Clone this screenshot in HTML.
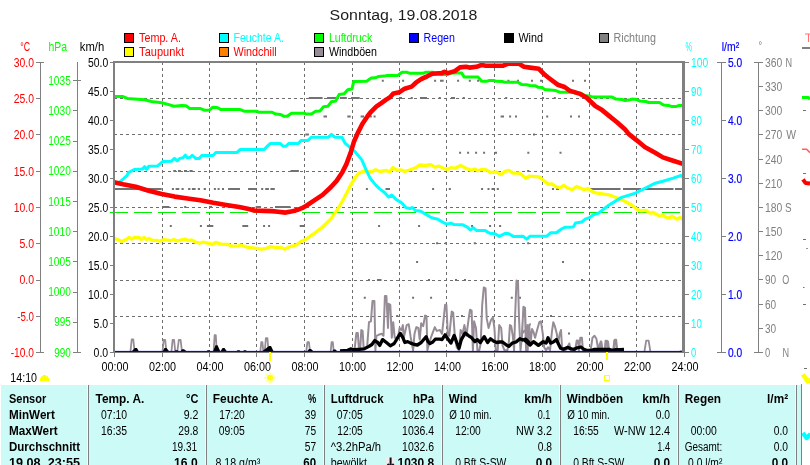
<!DOCTYPE html>
<html><head><meta charset="utf-8"><title>Wetter</title>
<style>html,body{margin:0;padding:0;background:#fff;width:810px;height:465px;overflow:hidden}</style></head>
<body>
<svg width="810" height="465" viewBox="0 0 810 465" style="position:absolute;left:0;top:0;will-change:transform;font-family:'Liberation Sans',sans-serif">
<rect width="810" height="465" fill="#fff"/>
<path d="M162.5,62V351 M209.5,62V351 M256.5,62V351 M304.5,62V351 M352.5,62V351 M399.5,62V351 M446.5,62V351 M494.5,62V351 M542.5,62V351 M589.5,62V351 M636.5,62V351 M114,98.5H682 M114,134.5H682 M114,171.5H682 M114,207.5H682 M114,243.5H682 M114,280.5H682 M114,316.5H682" stroke="#6e6e6e" stroke-width="1" stroke-dasharray="3 3" fill="none" shape-rendering="crispEdges"/>
<path d="M114.6,189H161.7" stroke="#727272" stroke-width="2" fill="none"/>
<path d="M171.9,189H173.9 M175.6,189H179.3 M181.5,189H183.7 M188.1,189H190.4 M191.9,189H195.6 M197.8,189H200 M203.7,189H205.9 M213.9,189H215.9 M217.6,189H219.6 M222.0,189H224.0 M228.1,189H240 M248.1,189H256.3 M261.2,189H263.2 M265.2,189H268.9 M270.4,189H274.8 M365.9,189H367.9 M385.5,189H390" stroke="#727272" stroke-width="2" fill="none"/>
<path d="M173.3,171H176 M178,171H181 M184,171H187 M189.5,171H192.7 M290.5,171H298.9 M410.2,171H412.2 M527.2,171H529.2" stroke="#727272" stroke-width="2" fill="none"/>
<path d="M163,207H169.4 M184.2,207H186.2 M209.5,207H212 M255.6,207H261 M275,207H290.5" stroke="#727272" stroke-width="2" fill="none"/>
<path d="M169.8,225.9H171.8 M199.9,225.9H201.9 M206.9,225.9H213.3 M242.3,225.9H248.2 M263.1,225.9H265.1 M268.1,225.9H270.1 M299.7,225.9H304.5 M378.1,225.9H380.1 M418.1,225.9H420.1 M471.1,225.9H473.1 M489.1,225.9H491.1 M499.1,225.9H501.1" stroke="#727272" stroke-width="2" fill="none"/>
<path d="M308.8,98H322.6 M327,98H336.4 M340,98H346.8 M351,98H359.7" stroke="#727272" stroke-width="2" fill="none"/>
<path d="M323.5,116.6H327 M347.3,116.6H350.7 M360.6,116.6H364 M369.7,116.6H371.8 M373.6,116.6H375.6 M500.6,116.6H504 M509.1,116.6H511.1 M515.0,116.6H517.0 M546.2,116.6H548.2 M570.0,116.6H572.0 M578.0,116.6H580.0" stroke="#727272" stroke-width="2" fill="none"/>
<path d="M381.8,80.8H383.8 M402.1,80.8H404.1 M434.1,80.8H436.1 M440,80.8H443.6 M457.1,80.8H459.1 M468.8,80.8H470.8 M477.1,80.8H479.1 M507.4,80.8H509.4 M517.0,80.8H519.0 M531.0,80.8H533.0 M540,80.8H542.3 M572.0,80.8H574.0 M584.0,80.8H586.0" stroke="#727272" stroke-width="2" fill="none"/>
<path d="M305.3,134.5H308.8 M533.0,134.5H535.0" stroke="#727272" stroke-width="2" fill="none"/>
<path d="M399,98H402 M410.8,98H412.8 M420,98H427 M438.8,98H440.8 M451,98H455 M462.8,98H464.8 M505.2,98H507.2 M542.0,98H544.0 M553.8,98H555.8" stroke="#727272" stroke-width="2" fill="none"/>
<path d="M559.5,152.8H561.5 M459.1,152.8H461.1 M467.1,152.8H469.1 M475.1,152.8H477.1 M483.1,152.8H485.1 M495.0,152.8H497.0 M527.3,152.8H529.3" stroke="#727272" stroke-width="2" fill="none"/>
<path d="M386.5,189H389.7 M432.1,189H434.1 M448.8,189H450.8 M481.1,189H483.1 M487.5,189H489.5 M491.5,189H494 M496.8,189H498.8 M552.0,189H554.0 M556,189H559" stroke="#727272" stroke-width="2" fill="none"/>
<path d="M389.8,243.2H391.8 M436.1,243.2H438.1 M444.8,243.2H446.8 M473.8,243.2H475.8 M527.2,243.2H529.2" stroke="#727272" stroke-width="2" fill="none"/>
<path d="M363.8,297.7H365.8 M412.1,297.7H414.1 M430.1,297.7H432.1 M510.8,297.7H512.8 M519.0,297.7H521.0" stroke="#727272" stroke-width="2" fill="none"/>
<path d="M368.0,280H370.0 M377,280H381.5 M428.0,280H430.0 M455.0,280H457.0 M464.0,280H466.0 M581.0,280H583.0" stroke="#727272" stroke-width="2" fill="none"/>
<path d="M396.2,316H398.2 M424.8,316H426.8 M461.0,316H463.0 M550.0,316H552.0" stroke="#727272" stroke-width="2" fill="none"/>
<path d="M568.0,333.6H570.0" stroke="#727272" stroke-width="2" fill="none"/>
<path d="M416.1,262H418.1 M562.0,262H564.0" stroke="#727272" stroke-width="2" fill="none"/>
<path d="M586.8,189H620.5 M623,189H641 M642.5,189H673.5 M675,189H684" stroke="#707070" stroke-width="2" fill="none"/>
<path d="M110,212.5H128 M134,212.5H152 M158,212.5H176 M182,212.5H200 M206,212.5H224 M230,212.5H248 M254,212.5H272 M278,212.5H296 M302,212.5H320 M326,212.5H344 M350,212.5H368 M374,212.5H392 M398,212.5H416 M422,212.5H440 M446,212.5H464 M470,212.5H488 M494,212.5H512 M518,212.5H536 M542,212.5H560 M566,212.5H584 M590,212.5H608 M614,212.5H632 M638,212.5H656 M662,212.5H680" stroke="#00f000" stroke-width="1" fill="none" shape-rendering="crispEdges"/>
<polyline points="345.8,350.9 354.5,350.3 356.4,332.9 357.8,332.9 358.8,347.4 360.3,347.4 361.3,330.0 362.6,330.9 363.6,347.4 367.1,347.4 369.0,322.2 370.9,321.3 372.5,300.9 374.4,300.9 375.4,350.3 376.4,335.8 378.7,334.8 381.6,333.8 383.5,335.8 384.9,296.1 386.4,296.1 388.0,328.0 388.7,303.8 390.3,304.8 391.8,337.7 393.2,322.2 394.7,337.7 398.0,337.7 399.6,328.0 401.5,330.0 402.9,325.1 403.8,337.7 406.7,325.1 408.7,324.2 410.6,336.7 413.1,350.3 414.5,333.8 416.4,327.1 418.3,328.0 419.7,339.6 421.2,323.2 423.2,326.1 425.1,315.5 426.5,316.4 427.4,350.3 429.0,343.5 430.9,337.7 434.8,327.1 436.7,330.9 440.0,330.0 439.7,330.0 442.0,333.8 443.5,320.3 445.1,304.8 446.4,304.8 447.8,333.8 449.3,335.8 451.7,311.6 453.2,312.6 454.8,335.8 456.7,347.4 459.0,350.3 460.6,330.0 462.5,333.8 464.4,325.1 466.4,335.8 468.7,318.4 470.0,309.7 471.6,310.6 472.9,350.3 474.1,321.3 476.0,328.0 477.4,350.3 479.3,350.3 480.7,343.5 482.2,304.8 483.8,287.4 485.5,288.4 486.7,318.4 488.6,328.0 490.9,320.3 492.9,317.4 494.4,328.0 495.8,350.3 497.7,350.3 499.2,325.1 501.2,328.0 502.5,345.4 504.5,350.3 507.4,350.3 508.9,341.6 509.9,325.1 511.2,326.1 512.8,335.8 514.1,350.3 515.1,316.4 516.5,280.6 518.0,281.6 519.0,318.4 520.5,350.3 521.9,337.7 523.4,306.8 524.8,307.7 526.1,350.3 527.7,350.3 528.6,328.0 530.0,324.2 521.9,333.8 523.5,307.7 525.0,307.7 526.4,350.3 527.7,325.1 529.3,327.1 530.6,343.5 532.0,329.0 533.5,331.9 535.1,337.7 537.4,329.0 539.3,322.2 540.9,321.3 542.8,333.8 544.2,347.4 546.1,350.3 548.0,347.4 550.0,350.3 551.9,331.9 553.3,322.2 554.8,326.1 556.8,333.8 558.1,343.5 559.7,333.8 561.0,330.0 562.2,350.3 565.5,350.3 567.4,347.4 569.3,343.5 570.7,350.3 575.1,350.3 576.7,340.6 578.0,340.6 579.0,350.3 580.3,337.7 581.9,337.7 582.9,350.3 590.6,350.3 592.5,337.7 594.5,335.8 596.4,338.7 598.3,350.3 599.9,343.5 601.2,342.5 602.6,350.3 605.1,350.3 606.5,341.6 608.0,341.6 609.0,350.3 613.2,350.3 614.4,340.6 615.7,340.6 616.7,350.3 620.0,350.3" fill="none" stroke="#968c96" stroke-width="2" stroke-linejoin="round" stroke-linecap="butt" stroke-linejoin="miter"/>
<polyline points="130.5,351 131.7,339.5 133.3,339.5 134.5,351" fill="none" stroke="#968c96" stroke-width="1.8" stroke-linejoin="round" stroke-linecap="butt" />
<polyline points="162.6,351 163.7,340 165.2,340 166.3,351" fill="none" stroke="#968c96" stroke-width="1.8" stroke-linejoin="round" stroke-linecap="butt" />
<polyline points="171.5,351 172.6,340 174.1,340 175.2,351" fill="none" stroke="#968c96" stroke-width="1.8" stroke-linejoin="round" stroke-linecap="butt" />
<polyline points="177.4,351 178.8,340 180.6,340 181.9,351" fill="none" stroke="#968c96" stroke-width="1.8" stroke-linejoin="round" stroke-linecap="butt" />
<polyline points="213.7,351 214.6,335.2 215.8,335.2 216.7,351" fill="none" stroke="#968c96" stroke-width="1.8" stroke-linejoin="round" stroke-linecap="butt" />
<polyline points="260.4,351 261.3,342.2 262.4,342.2 263.3,351" fill="none" stroke="#968c96" stroke-width="1.8" stroke-linejoin="round" stroke-linecap="butt" />
<polyline points="264.8,351 265.9,338.2 267.4,338.2 268.5,351" fill="none" stroke="#968c96" stroke-width="1.8" stroke-linejoin="round" stroke-linecap="butt" />
<polyline points="306.3,351 307.4,342.2 308.9,342.2 310,351" fill="none" stroke="#968c96" stroke-width="1.8" stroke-linejoin="round" stroke-linecap="butt" />
<polyline points="330.7,351 331.6,342.2 332.8,342.2 333.7,351" fill="none" stroke="#968c96" stroke-width="1.8" stroke-linejoin="round" stroke-linecap="butt" />
<polyline points="600,351 600.6,341.5 601.4,341.5 602,351" fill="none" stroke="#968c96" stroke-width="1.8" stroke-linejoin="round" stroke-linecap="butt" />
<polyline points="604.5,351 605.5,340.6 607.0,340.6 608,351" fill="none" stroke="#968c96" stroke-width="1.8" stroke-linejoin="round" stroke-linecap="butt" />
<polyline points="613.5,351 614.7,339.7 616.2,339.7 617.4,351" fill="none" stroke="#968c96" stroke-width="1.8" stroke-linejoin="round" stroke-linecap="butt" />
<polyline points="644.5,351 646.2,340.6 648.6,340.6 650.3,351" fill="none" stroke="#968c96" stroke-width="1.8" stroke-linejoin="round" stroke-linecap="butt" />
<polyline points="114,238.3 114.9,238.5 118,239.8 121.7,241.6 125.4,239.8 129.1,237.5 131.6,239.1 134.7,237.3 139,237.3 141.5,239.5 144,237.5 146.4,239.5 148.9,238.5 152.6,240.4 156.9,240.4 159.4,241.2 164.3,239.5 170.5,240.7 173.6,239.5 177.3,241 181.6,239.8 185.3,239.1 189,240.7 191.5,239.8 195.2,242 199.5,243.2 202.6,242.2 209.3,243.3 212.4,244.5 215.5,242.3 221,244.1 228.5,244.5 231.5,246.2 237.7,246.2 240.8,245 247,247.2 254.4,248.2 261.2,249.1 265.5,248.7 270.4,246.6 275.4,247.5 280.9,247.5 285,249.1 289,247 296.4,244.8 300.7,241.7 305,239.8 314.3,233.4 322.6,227 331,218.6 338,208.8 343.6,199 349.2,187.9 354.8,178.1 359,173.1 364.6,171.1 371.5,171.9 375.7,169.7 380,171.5 386.4,170.4 389.7,171.9 392.9,167.6 397.2,170.4 401.5,170 404.7,171.5 410.1,169.8 414.4,168.3 419.8,165 425.1,165.5 430.5,164.6 434.8,167.2 439.1,166.1 443.4,168.3 447.7,169.3 450.9,167.6 455.2,168.3 460.6,165.5 466,168.3 471.3,170.4 474.6,168.9 477.8,170.8 482.1,169.3 486.4,169.8 490.7,172.6 496,171.9 501.4,174.7 504.6,171.5 508.9,170.4 513.2,173.2 519.7,173.2 526.1,178.4 529.3,176.2 539,176.8 544.4,181.1 548.7,184.4 551.9,183.9 556.2,186.9 560.5,187.6 563.7,185.4 568,188.2 572.3,189.7 576.6,186.5 580.9,188.2 584.1,189.7 588.4,188.7 592.7,191.9 595.9,192.9 608.7,194.8 621.6,199.5 631.9,205.2 638.4,210.3 640,210.8 646,210.3 649.9,213.3 652.8,212.3 659.8,216.2 662.7,215.2 665.7,217.2 669.6,218.2 671.6,216.2 677.5,219.2 680,217.2 683,219.7" fill="none" stroke="#ffff00" stroke-width="3.3" stroke-linejoin="round" stroke-linecap="butt" />
<polyline points="119,182.3 120.8,181.2 127.2,175.3 128.3,172.6 134.7,169.4 142.3,169.1 144.6,166.7 146.6,169.4 148.7,166.3 157.3,166.1 162.7,161.6 171.3,161.3 174.5,158.4 177.2,160.8 179.9,158.4 183.1,157.7 185.3,155.2 187.4,157.7 190,157.5 192.2,155.3 195.9,158.5 199.1,158.5 201.8,155.5 213.1,155.5 215.8,152.6 236.8,152.6 240,149.6 250,149.6 264.2,149.6 267.4,146.1 270.4,143.4 280.1,143.4 283.3,146.3 286,146.3 288.7,143.4 298.3,143.4 301,140.4 308,140.4 311.2,137.2 328.4,137.2 331.5,134.3 334.9,137.2 341.9,137.2 345,143.1 354.8,151.5 361.8,159.9 366,169.7 370.1,178.1 375.7,185.1 380,189.1 384.3,192.3 388.6,196.9 391.8,195.1 396.1,199.4 401.5,202.7 405.8,207.6 410.1,208.5 412.2,207.6 415.5,210.6 420.8,211.3 425.1,214 431.6,217.7 438,219.2 442.3,222 446.6,224.1 450.9,223.1 454.1,224.6 462.7,224.8 467,226.9 470.3,229.9 473.5,227.8 476.7,230.6 485.3,230.6 489.6,233.2 495,233.8 499.3,236.4 505.7,233.2 508.9,233.8 513.2,236.4 522.9,236.3 526.8,239.1 529.8,236.3 546.5,236.3 550.8,232.7 556.2,232.7 561.5,229 564.8,227.3 573.4,226.9 575.5,223 581.9,222 585.2,219.2 589.5,217.7 592.7,215.1 598.1,213.4 608.7,205.2 621.6,197.4 634.5,193.5 647.4,187.1 655.2,183.2 662.9,181.2 673.2,178.1 681,175.5 683,177.3" fill="none" stroke="#00ffff" stroke-width="3" stroke-linejoin="round" stroke-linecap="butt" />
<polyline points="114,96.6 123,96.6 127.3,98.4 144.6,99.8 151.5,101.5 161.8,102.7 168.8,104.6 174,106.3 181.7,105.5 186,105.8 189.5,108.4 199.9,108.4 205,110.3 209.4,110.1 212.8,107.2 217.2,107.5 220.6,109.4 239.6,109.4 244,111.2 250,111.3 257,111.3 258.6,112.2 271.6,112.2 276,114.1 280.2,114.4 283.7,116.2 287.2,116.2 291.5,113.2 304.4,113.2 306.2,114.1 311.4,114.1 315.7,111.3 320,111 323.5,106.7 327.8,106.3 331.2,101.8 335.6,101.1 339,94.6 344.2,93.7 347.7,89.7 352,89 353.7,81.6 366.7,81.3 371,78.1 375.3,77.8 378.8,76.4 384,76.1 386.5,75.6 390,75.4 397.8,75.4 402,72.3 407.3,72.3 409.9,73.3 422.8,73.3 425.4,72.3 432.3,72.3 441.8,74.6 446.5,74.6 450.5,73.1 461.7,73.1 464.3,77.1 478.1,77.1 481.6,81.3 486.8,81.3 489.4,80.4 493.7,80.4 496.3,81.3 502.3,81.4 504.9,82.3 517.9,82.3 521.4,84.4 526.5,84.7 530,85.5 535,85.7 537.9,87.2 541.9,87.6 544.8,89.6 555.7,90.6 559.7,92.2 572.5,92.2 576.5,93.6 581.4,93.6 584.4,95.5 589.3,95.9 592.3,97.1 612.1,97.1 616,99.1 622,99.5 624.9,100.5 628.9,100.1 631.9,99.1 636.8,99.5 639.8,101.1 645.7,101.5 648.7,102.5 659.5,102.5 663.5,105 668.4,105.4 671.4,106.4 676.4,106.4 679.3,105.4 683.3,105.4" fill="none" stroke="#00ff00" stroke-width="3" stroke-linejoin="round" stroke-linecap="butt" />
<polyline points="114,182.2 122.9,184.2 135.8,186.8 148.7,190.7 161.7,194.1 174.6,196.6 187.5,198.5 200.4,200.3 213.3,202.8 226.2,204.9 239.2,207 250,209.2 254,210.5 264,210.9 272,211.1 278,211.8 285.6,212.6 291,211.6 294.4,210.7 298.9,209.3 301.9,208.2 305.9,206 314.3,200.4 322.6,194.9 331,187 336.6,180.9 342.2,172.5 346.4,164.1 350.6,152.9 353.9,141.8 357.6,133.4 362.3,124 367.5,116.2 371,111.8 376.2,106.7 381.3,103.2 386.5,99.4 390,97.3 393.5,93.4 399.5,92.2 404.7,88.7 411.6,86.6 415.9,82.7 421.1,79.2 427.2,76.3 432.3,73.7 441.8,73.1 444.4,71.8 447.9,73.1 454.8,71.1 460,67.4 466,66.8 469.5,67.6 476.4,66.8 481.6,65 485.9,65.7 503.2,65.7 508.4,63.6 518.8,63.6 524,66.8 530,67.6 538.9,68.8 544.8,74.8 549.8,78.7 557.7,84.7 564.6,87 569.6,90.6 579.4,93.6 586.4,97.5 595.3,106 601.2,109.4 609.1,115.9 617,122.2 624.9,129.2 628.9,134.1 637.1,140.6 644.8,147.1 655.2,152.8 662.9,157.4 673.2,160.8 683,163.9" fill="none" stroke="#ff0000" stroke-width="4.6" stroke-linejoin="round" stroke-linecap="butt" />
<polyline points="340.0,350.9 347.7,350.3 350.6,348.9 353.5,349.7 359.3,349.3 364.2,348.9 369.0,346.4 371.9,344.5 374.8,340.6 377.7,342.5 379.7,345.4 382.6,339.6 386.4,342.5 390.3,345.8 394.2,343.5 397.1,338.7 400.3,333.4 402.9,337.7 404.8,342.5 407.7,341.6 410.6,343.1 414.5,344.5 417.4,345.0 421.2,342.5 426.1,336.7 428.0,341.6 429.9,343.5 432.8,342.0 435.2,339.2 440.0,339.2 442.0,339.6 445.1,334.8 447.8,338.7 450.9,343.1 454.2,335.4 456.7,342.5 459.0,348.3 461.3,339.6 465.2,332.9 468.7,335.8 471.6,337.7 474.9,341.6 477.4,339.6 480.3,342.5 484.2,336.7 487.6,342.5 490.5,338.7 493.8,341.2 496.7,342.5 499.6,342.0 502.5,342.0 506.4,345.0 508.9,346.4 512.2,343.1 516.1,342.0 519.9,338.7 522.8,340.0 525.7,339.2 528.6,342.0 530.0,345.0 523.9,339.6 526.8,341.6 530.1,345.0 533.5,341.6 538.4,345.4 543.2,341.6 546.1,343.1 548.0,337.7 550.6,343.1 553.3,342.0 556.4,339.6 558.7,344.5 560.6,348.3 563.5,349.3 567.4,347.4 571.3,348.9 574.2,349.3 577.1,347.8 580.9,347.0 583.8,349.3 586.7,350.3 591.6,350.3 594.5,349.3 609.0,349.3 611.9,350.3 615.7,349.7 620.0,349.7 624,349.5" fill="none" stroke="#000" stroke-width="3.3" stroke-linejoin="round" stroke-linecap="butt" />
<path d="M131.5,351.5L134.9,348L136.9,348L138.9,351.5Z" fill="#000"/>
<path d="M162.6,351.5L164.5,348L166.5,348L169.3,351.5Z" fill="#000"/>
<path d="M174.4,351.5L175.5,350.2L177.5,350.2L179,351.5Z" fill="#000"/>
<path d="M180.4,351.5L182,349.2L184,349.2L187,351.5Z" fill="#000"/>
<path d="M206.3,351.5L207.5,350.3L209.5,350.3L210.7,351.5Z" fill="#000"/>
<path d="M213,351.5L215.5,345.2L217.5,345.2L220.4,351.5Z" fill="#000"/>
<path d="M220.4,351.5L222.5,348.1L224.5,348.1L227,351.5Z" fill="#000"/>
<path d="M236,351.5L237.5,350.3L239.5,350.3L241,351.5Z" fill="#000"/>
<path d="M242.6,351.5L244,350.3L246,350.3L247,351.5Z" fill="#000"/>
<path d="M261.9,351.5L269,345.9L271,345.9L273.7,351.5Z" fill="#000"/>
<path d="M307,351.5L309,348.9L311,348.9L313.7,351.5Z" fill="#000"/>
<path d="M332.2,351.5L333.5,349.6L335.5,349.6L337.4,351.5Z" fill="#000"/>
<path d="M339.6,351.5L341.5,350.6L343.5,350.6L345.5,351.5Z" fill="#000"/>
<path d="M678.3,351.5L680,350.8L682,350.8L684,351.5Z" fill="#000"/>
<rect x="115" y="350.9" width="568" height="1.5" fill="#0000ff"/>
<rect x="113" y="61" width="2" height="292" fill="#808080"/>
<rect x="113" y="61" width="571" height="2" fill="#808080"/>
<rect x="682" y="61" width="3" height="292" fill="#808080"/>
<rect x="113" y="352" width="572" height="1" fill="#808080"/>
<path d="M114.5,352V357 M162.5,352V357 M209.5,352V357 M256.5,352V357 M304.5,352V357 M352.5,352V357 M399.5,352V357 M446.5,352V357 M494.5,352V357 M542.5,352V357 M589.5,352V357 M636.5,352V357 M684.5,352V357 M110,352.5H113 M110,323.5H113 M110,294.5H113 M110,265.5H113 M110,236.5H113 M110,207.5H113 M110,178.5H113 M110,149.5H113 M110,120.5H113 M110,91.5H113 M110,62.5H113 M40.5,62V353 M36,62.5H44 M36,98.5H40 M36,134.5H40 M36,171.5H40 M36,207.5H40 M36,243.5H40 M36,280.5H40 M36,316.5H40 M36,352.5H44 M77.5,62V353 M73,352.5H81 M73,322.5H77 M73,292.5H77 M73,261.5H77 M73,231.5H77 M73,201.5H77 M73,171.5H77 M73,141.5H77 M73,110.5H77 M73,80.5H81 M685,352.5H689 M685,323.5H689 M685,294.5H689 M685,265.5H689 M685,236.5H689 M685,207.5H689 M685,178.5H689 M685,149.5H689 M685,120.5H689 M685,91.5H689 M685,62.5H689 M721.5,62V353 M717,352.5H726 M721,294.5H726 M721,236.5H726 M721,178.5H726 M721,120.5H726 M717,62.5H726 M758.5,62V353 M754,352.5H763 M758,328.5H763 M758,304.5H763 M758,279.5H763 M758,255.5H763 M758,231.5H763 M758,207.5H763 M758,183.5H763 M758,159.5H763 M758,134.5H763 M758,110.5H763 M758,86.5H763 M754,62.5H763" stroke="#808080" stroke-width="1" fill="none" shape-rendering="crispEdges"/>
<rect x="269" y="352" width="2" height="9" fill="#ffff00"/>
<rect x="606" y="352" width="2" height="8" fill="#ffff00"/>
<rect x="604.5" y="375.5" width="5" height="5" fill="none" stroke="#ffff00" stroke-width="1"/>
<g stroke="#ffff70" stroke-width="1" fill="#ffff00"><circle cx="270" cy="377.8" r="3" stroke="none"/><circle cx="270" cy="377.8" r="4.6" stroke="#ffffa0" stroke-width="0.8" fill="none"/><line x1="273.0" y1="377.8" x2="276.0" y2="377.8"/><line x1="272.1" y1="379.9" x2="274.2" y2="382.0"/><line x1="270.0" y1="380.8" x2="270.0" y2="383.8"/><line x1="267.9" y1="379.9" x2="265.8" y2="382.0"/><line x1="267.0" y1="377.8" x2="264.0" y2="377.8"/><line x1="267.9" y1="375.7" x2="265.8" y2="373.6"/><line x1="270.0" y1="374.8" x2="270.0" y2="371.8"/><line x1="272.1" y1="375.7" x2="274.2" y2="373.6"/></g>
<path d="M40,381V378H41V376.3H43V375H46V376.3H48V378H49V381Z" fill="#ffff00"/>
<rect x="802" y="47" width="8" height="2" fill="#808080"/>
<path d="M805,34H810M808.5,34V42" stroke="#ff7070" stroke-width="1.1" fill="none"/>
<path d="M802,97.5H808L810,99" stroke="#00ff00" stroke-width="3" fill="none"/>
<path d="M802,149.2H806.5L810,152.6" stroke="#ff6060" stroke-width="1.6" fill="none"/>
<path d="M803,179.3L805.5,183L810,183.6" stroke="#ff0000" stroke-width="4" fill="none" stroke-linejoin="round"/>
<path d="M802.8,374.5L807.8,381.5L810.5,379.5" stroke="#ffff00" stroke-width="4.5" fill="none" stroke-linejoin="round"/>
<path d="M802.8,433L806.6,438L810.5,434" stroke="#00ffff" stroke-width="4.2" fill="none" stroke-linejoin="round"/>
<path d="M803,110.5H806M803,173.5H806M803,239.5H806M803,304.5H806M804,368.5H807M806.3,248.5H807.8M803,287.5H804.5" stroke="#707070" stroke-width="1" fill="none"/>
<rect x="124.5" y="33.5" width="9" height="9" fill="#ff0000" stroke="#000" stroke-width="1" shape-rendering="crispEdges"/>
<rect x="124.5" y="47.5" width="9" height="9" fill="#ffff00" stroke="#000" stroke-width="1" shape-rendering="crispEdges"/>
<rect x="219.5" y="33.5" width="9" height="9" fill="#00ffff" stroke="#000" stroke-width="1" shape-rendering="crispEdges"/>
<rect x="219.5" y="47.5" width="9" height="9" fill="#ff8000" stroke="#000" stroke-width="1" shape-rendering="crispEdges"/>
<rect x="314.5" y="33.5" width="9" height="9" fill="#00ff00" stroke="#000" stroke-width="1" shape-rendering="crispEdges"/>
<rect x="314.5" y="47.5" width="9" height="9" fill="#968c96" stroke="#000" stroke-width="1" shape-rendering="crispEdges"/>
<rect x="409.5" y="33.5" width="9" height="9" fill="#0000ff" stroke="#000" stroke-width="1" shape-rendering="crispEdges"/>
<rect x="504.5" y="33.5" width="9" height="9" fill="#000000" stroke="#000" stroke-width="1" shape-rendering="crispEdges"/>
<rect x="599.5" y="33.5" width="9" height="9" fill="#808080" stroke="#000" stroke-width="1" shape-rendering="crispEdges"/>
<rect x="1" y="385" width="794" height="80" fill="#ccfaf7"/>
<rect x="797" y="385" width="4" height="80" fill="#ccfaf7"/>
<rect x="801" y="384" width="1" height="81" fill="#808080"/>
<rect x="87" y="385" width="1" height="80" fill="#fff"/><rect x="88" y="385" width="1" height="80" fill="#808080"/>
<rect x="205" y="385" width="1" height="80" fill="#fff"/><rect x="206" y="385" width="1" height="80" fill="#808080"/>
<rect x="323" y="385" width="1" height="80" fill="#fff"/><rect x="324" y="385" width="1" height="80" fill="#808080"/>
<rect x="441" y="385" width="1" height="80" fill="#fff"/><rect x="442" y="385" width="1" height="80" fill="#808080"/>
<rect x="559" y="385" width="1" height="80" fill="#fff"/><rect x="560" y="385" width="1" height="80" fill="#808080"/>
<rect x="677" y="385" width="1" height="80" fill="#fff"/><rect x="678" y="385" width="1" height="80" fill="#808080"/>
<rect x="795" y="385" width="1" height="80" fill="#fff"/><rect x="796" y="385" width="1" height="80" fill="#808080"/>
<rect x="386" y="457" width="8.5" height="8" fill="#f3ecec"/>
<path d="M390.6,457.5V466M387.5,464L390.6,467L393.7,464" stroke="#101020" stroke-width="2" fill="none"/>
<text x="329.6" y="20.3" font-size="15.5" fill="#1c1c1c" textLength="147.7" lengthAdjust="spacingAndGlyphs">Sonntag, 19.08.2018</text>
<text x="139.1" y="42" font-size="12.5" fill="#ff0000" textLength="41.8" lengthAdjust="spacingAndGlyphs">Temp. A.</text>
<text x="139.1" y="56" font-size="12.5" fill="#ff0000" textLength="44.9" lengthAdjust="spacingAndGlyphs">Taupunkt</text>
<text x="233.5" y="42" font-size="12.5" fill="#00ffff" textLength="50.5" lengthAdjust="spacingAndGlyphs">Feuchte A.</text>
<text x="233.5" y="56" font-size="12.5" fill="#ff0000" textLength="43.2" lengthAdjust="spacingAndGlyphs">Windchill</text>
<text x="328.9" y="42" font-size="12.5" fill="#00ff00" textLength="43.4" lengthAdjust="spacingAndGlyphs">Luftdruck</text>
<text x="328.9" y="56" font-size="12.5" fill="#000" textLength="48.1" lengthAdjust="spacingAndGlyphs">Windböen</text>
<text x="423.5" y="42" font-size="12.5" fill="#0000ff" textLength="31.5" lengthAdjust="spacingAndGlyphs">Regen</text>
<text x="518.4" y="42" font-size="12.5" fill="#000" textLength="24.6" lengthAdjust="spacingAndGlyphs">Wind</text>
<text x="613.5" y="42" font-size="12.5" fill="#808080" textLength="42.5" lengthAdjust="spacingAndGlyphs">Richtung</text>
<text x="20.3" y="50.8" font-size="12.3" fill="#ff0000" textLength="9.8" lengthAdjust="spacingAndGlyphs">°C</text>
<text x="48.5" y="50.8" font-size="12.3" fill="#00ff00" textLength="18.5" lengthAdjust="spacingAndGlyphs">hPa</text>
<text x="79.8" y="50.8" font-size="12.3" fill="#000" textLength="24.4" lengthAdjust="spacingAndGlyphs">km/h</text>
<text x="685.6" y="50.8" font-size="12.3" fill="#00ffff" textLength="6.4" lengthAdjust="spacingAndGlyphs">%</text>
<text x="721.8" y="50.8" font-size="12.3" fill="#0000ff" textLength="17.4" lengthAdjust="spacingAndGlyphs" stroke="#0000ff" stroke-width="0.18">l/m²</text>
<text x="758.6" y="49.2" font-size="10" fill="#808080" textLength="3.6" lengthAdjust="spacingAndGlyphs">°</text>
<text x="13.8" y="66.9" font-size="12.3" fill="#ff0000" textLength="20.2" lengthAdjust="spacingAndGlyphs">30.0</text>
<text x="13.8" y="103.2" font-size="12.3" fill="#ff0000" textLength="20.2" lengthAdjust="spacingAndGlyphs">25.0</text>
<text x="13.8" y="139.4" font-size="12.3" fill="#ff0000" textLength="20.2" lengthAdjust="spacingAndGlyphs">20.0</text>
<text x="13.8" y="175.7" font-size="12.3" fill="#ff0000" textLength="20.2" lengthAdjust="spacingAndGlyphs">15.0</text>
<text x="13.8" y="211.9" font-size="12.3" fill="#ff0000" textLength="20.2" lengthAdjust="spacingAndGlyphs">10.0</text>
<text x="19.4" y="248.2" font-size="12.3" fill="#ff0000" textLength="14.6" lengthAdjust="spacingAndGlyphs">5.0</text>
<text x="19.4" y="284.4" font-size="12.3" fill="#ff0000" textLength="14.6" lengthAdjust="spacingAndGlyphs">0.0</text>
<text x="17.2" y="320.6" font-size="12.3" fill="#ff0000" textLength="16.8" lengthAdjust="spacingAndGlyphs">-5.0</text>
<text x="10.7" y="356.9" font-size="12.3" fill="#ff0000" textLength="23.3" lengthAdjust="spacingAndGlyphs">-10.0</text>
<text x="54.2" y="356.6" font-size="12.3" fill="#00ff00" textLength="16.6" lengthAdjust="spacingAndGlyphs">990</text>
<text x="54.2" y="326.4" font-size="12.3" fill="#00ff00" textLength="16.6" lengthAdjust="spacingAndGlyphs">995</text>
<text x="48.2" y="296.2" font-size="12.3" fill="#00ff00" textLength="22.6" lengthAdjust="spacingAndGlyphs">1000</text>
<text x="48.2" y="266.0" font-size="12.3" fill="#00ff00" textLength="22.6" lengthAdjust="spacingAndGlyphs">1005</text>
<text x="48.2" y="235.8" font-size="12.3" fill="#00ff00" textLength="22.6" lengthAdjust="spacingAndGlyphs">1010</text>
<text x="48.2" y="205.6" font-size="12.3" fill="#00ff00" textLength="22.6" lengthAdjust="spacingAndGlyphs">1015</text>
<text x="48.2" y="175.4" font-size="12.3" fill="#00ff00" textLength="22.6" lengthAdjust="spacingAndGlyphs">1020</text>
<text x="48.2" y="145.2" font-size="12.3" fill="#00ff00" textLength="22.6" lengthAdjust="spacingAndGlyphs">1025</text>
<text x="48.2" y="115.0" font-size="12.3" fill="#00ff00" textLength="22.6" lengthAdjust="spacingAndGlyphs">1030</text>
<text x="48.2" y="84.8" font-size="12.3" fill="#00ff00" textLength="22.6" lengthAdjust="spacingAndGlyphs">1035</text>
<text x="93.6" y="357.0" font-size="12.3" fill="#000" textLength="14.6" lengthAdjust="spacingAndGlyphs">0.0</text>
<text x="93.6" y="328.0" font-size="12.3" fill="#000" textLength="14.6" lengthAdjust="spacingAndGlyphs">5.0</text>
<text x="88.0" y="299.0" font-size="12.3" fill="#000" textLength="20.2" lengthAdjust="spacingAndGlyphs">10.0</text>
<text x="88.0" y="270.0" font-size="12.3" fill="#000" textLength="20.2" lengthAdjust="spacingAndGlyphs">15.0</text>
<text x="88.0" y="241.0" font-size="12.3" fill="#000" textLength="20.2" lengthAdjust="spacingAndGlyphs">20.0</text>
<text x="88.0" y="212.0" font-size="12.3" fill="#000" textLength="20.2" lengthAdjust="spacingAndGlyphs">25.0</text>
<text x="88.0" y="183.0" font-size="12.3" fill="#000" textLength="20.2" lengthAdjust="spacingAndGlyphs">30.0</text>
<text x="88.0" y="154.0" font-size="12.3" fill="#000" textLength="20.2" lengthAdjust="spacingAndGlyphs">35.0</text>
<text x="88.0" y="125.0" font-size="12.3" fill="#000" textLength="20.2" lengthAdjust="spacingAndGlyphs">40.0</text>
<text x="88.0" y="96.0" font-size="12.3" fill="#000" textLength="20.2" lengthAdjust="spacingAndGlyphs">45.0</text>
<text x="88.0" y="67.0" font-size="12.3" fill="#000" textLength="20.2" lengthAdjust="spacingAndGlyphs">50.0</text>
<text x="691" y="357.0" font-size="12.3" fill="#00ffff" textLength="5.2" lengthAdjust="spacingAndGlyphs">0</text>
<text x="691" y="328.0" font-size="12.3" fill="#00ffff" textLength="10.8" lengthAdjust="spacingAndGlyphs">10</text>
<text x="691" y="299.0" font-size="12.3" fill="#00ffff" textLength="10.8" lengthAdjust="spacingAndGlyphs">20</text>
<text x="691" y="270.0" font-size="12.3" fill="#00ffff" textLength="10.8" lengthAdjust="spacingAndGlyphs">30</text>
<text x="691" y="241.0" font-size="12.3" fill="#00ffff" textLength="10.8" lengthAdjust="spacingAndGlyphs">40</text>
<text x="691" y="212.0" font-size="12.3" fill="#00ffff" textLength="10.8" lengthAdjust="spacingAndGlyphs">50</text>
<text x="691" y="183.0" font-size="12.3" fill="#00ffff" textLength="10.8" lengthAdjust="spacingAndGlyphs">60</text>
<text x="691" y="154.0" font-size="12.3" fill="#00ffff" textLength="10.8" lengthAdjust="spacingAndGlyphs">70</text>
<text x="691" y="125.0" font-size="12.3" fill="#00ffff" textLength="10.8" lengthAdjust="spacingAndGlyphs">80</text>
<text x="691" y="96.0" font-size="12.3" fill="#00ffff" textLength="10.8" lengthAdjust="spacingAndGlyphs">90</text>
<text x="691" y="67.0" font-size="12.3" fill="#00ffff" textLength="17.2" lengthAdjust="spacingAndGlyphs">100</text>
<text x="727.9" y="357.0" font-size="12.3" fill="#0000ff" textLength="14.2" lengthAdjust="spacingAndGlyphs" stroke="#0000ff" stroke-width="0.18">0.0</text>
<text x="727.9" y="299.0" font-size="12.3" fill="#0000ff" textLength="14.2" lengthAdjust="spacingAndGlyphs" stroke="#0000ff" stroke-width="0.18">1.0</text>
<text x="727.9" y="241.0" font-size="12.3" fill="#0000ff" textLength="14.2" lengthAdjust="spacingAndGlyphs" stroke="#0000ff" stroke-width="0.18">2.0</text>
<text x="727.9" y="183.0" font-size="12.3" fill="#0000ff" textLength="14.2" lengthAdjust="spacingAndGlyphs" stroke="#0000ff" stroke-width="0.18">3.0</text>
<text x="727.9" y="125.0" font-size="12.3" fill="#0000ff" textLength="14.2" lengthAdjust="spacingAndGlyphs" stroke="#0000ff" stroke-width="0.18">4.0</text>
<text x="727.9" y="67.0" font-size="12.3" fill="#0000ff" textLength="14.2" lengthAdjust="spacingAndGlyphs" stroke="#0000ff" stroke-width="0.18">5.0</text>
<text x="764.9" y="356.8" font-size="12.3" fill="#808080" textLength="5.2" lengthAdjust="spacingAndGlyphs">0</text>
<text x="764.9" y="332.6" font-size="12.3" fill="#808080" textLength="11.2" lengthAdjust="spacingAndGlyphs">30</text>
<text x="764.9" y="308.5" font-size="12.3" fill="#808080" textLength="11.2" lengthAdjust="spacingAndGlyphs">60</text>
<text x="764.9" y="284.3" font-size="12.3" fill="#808080" textLength="11.2" lengthAdjust="spacingAndGlyphs">90</text>
<text x="764.9" y="260.1" font-size="12.3" fill="#808080" textLength="17.3" lengthAdjust="spacingAndGlyphs">120</text>
<text x="764.9" y="236.0" font-size="12.3" fill="#808080" textLength="17.3" lengthAdjust="spacingAndGlyphs">150</text>
<text x="764.9" y="211.8" font-size="12.3" fill="#808080" textLength="17.3" lengthAdjust="spacingAndGlyphs">180</text>
<text x="764.9" y="187.6" font-size="12.3" fill="#808080" textLength="17.3" lengthAdjust="spacingAndGlyphs">210</text>
<text x="764.9" y="163.5" font-size="12.3" fill="#808080" textLength="17.3" lengthAdjust="spacingAndGlyphs">240</text>
<text x="764.9" y="139.3" font-size="12.3" fill="#808080" textLength="17.3" lengthAdjust="spacingAndGlyphs">270</text>
<text x="764.9" y="115.1" font-size="12.3" fill="#808080" textLength="17.3" lengthAdjust="spacingAndGlyphs">300</text>
<text x="764.9" y="91.0" font-size="12.3" fill="#808080" textLength="17.3" lengthAdjust="spacingAndGlyphs">330</text>
<text x="764.9" y="66.8" font-size="12.3" fill="#808080" textLength="17.3" lengthAdjust="spacingAndGlyphs">360</text>
<text x="785.6" y="66.8" font-size="12.3" fill="#808080" textLength="6.6" lengthAdjust="spacingAndGlyphs">N</text>
<text x="786.3" y="139.3" font-size="12.3" fill="#808080" textLength="9.8" lengthAdjust="spacingAndGlyphs">W</text>
<text x="785" y="211.8" font-size="12.3" fill="#808080" textLength="6.6" lengthAdjust="spacingAndGlyphs">S</text>
<text x="782.2" y="284.3" font-size="12.3" fill="#808080" textLength="7" lengthAdjust="spacingAndGlyphs">O</text>
<text x="782.6" y="356.8" font-size="12.3" fill="#808080" textLength="6.6" lengthAdjust="spacingAndGlyphs">N</text>
<text x="101.6" y="370.7" font-size="12.3" fill="#000" textLength="27" lengthAdjust="spacingAndGlyphs">00:00</text>
<text x="149.1" y="370.7" font-size="12.3" fill="#000" textLength="27" lengthAdjust="spacingAndGlyphs">02:00</text>
<text x="196.6" y="370.7" font-size="12.3" fill="#000" textLength="27" lengthAdjust="spacingAndGlyphs">04:00</text>
<text x="244.1" y="370.7" font-size="12.3" fill="#000" textLength="27" lengthAdjust="spacingAndGlyphs">06:00</text>
<text x="291.6" y="370.7" font-size="12.3" fill="#000" textLength="27" lengthAdjust="spacingAndGlyphs">08:00</text>
<text x="339.1" y="370.7" font-size="12.3" fill="#000" textLength="27" lengthAdjust="spacingAndGlyphs">10:00</text>
<text x="386.6" y="370.7" font-size="12.3" fill="#000" textLength="27" lengthAdjust="spacingAndGlyphs">12:00</text>
<text x="434.1" y="370.7" font-size="12.3" fill="#000" textLength="27" lengthAdjust="spacingAndGlyphs">14:00</text>
<text x="481.6" y="370.7" font-size="12.3" fill="#000" textLength="27" lengthAdjust="spacingAndGlyphs">16:00</text>
<text x="529.1" y="370.7" font-size="12.3" fill="#000" textLength="27" lengthAdjust="spacingAndGlyphs">18:00</text>
<text x="576.6" y="370.7" font-size="12.3" fill="#000" textLength="27" lengthAdjust="spacingAndGlyphs">20:00</text>
<text x="624.1" y="370.7" font-size="12.3" fill="#000" textLength="27" lengthAdjust="spacingAndGlyphs">22:00</text>
<text x="671.6" y="370.7" font-size="12.3" fill="#000" textLength="27" lengthAdjust="spacingAndGlyphs">24:00</text>
<text x="10.3" y="381.8" font-size="12.3" fill="#000" textLength="26.7" lengthAdjust="spacingAndGlyphs">14:10</text>
<text x="9" y="403" font-size="12.3" fill="#000" font-weight="bold" textLength="37.2" lengthAdjust="spacingAndGlyphs">Sensor</text>
<text x="9" y="419" font-size="12.3" fill="#000" font-weight="bold" textLength="45.8" lengthAdjust="spacingAndGlyphs">MinWert</text>
<text x="9" y="435" font-size="12.3" fill="#000" font-weight="bold" textLength="48.6" lengthAdjust="spacingAndGlyphs">MaxWert</text>
<text x="9" y="451" font-size="12.3" fill="#000" font-weight="bold" textLength="71" lengthAdjust="spacingAndGlyphs">Durchschnitt</text>
<text x="9" y="467" font-size="12.3" fill="#000" font-weight="bold" textLength="71" lengthAdjust="spacingAndGlyphs">19.08. 23:55</text>
<text x="95.6" y="403" font-size="12.3" fill="#000" font-weight="bold" textLength="48.8" lengthAdjust="spacingAndGlyphs">Temp. A.</text>
<text x="186.1" y="403" font-size="12.3" fill="#000" font-weight="bold" textLength="12.3" lengthAdjust="spacingAndGlyphs">°C</text>
<text x="101.1" y="419" font-size="12.3" fill="#000" textLength="26" lengthAdjust="spacingAndGlyphs">07:10</text>
<text x="183.7" y="419" font-size="12.3" fill="#000" textLength="14.7" lengthAdjust="spacingAndGlyphs">9.2</text>
<text x="101.1" y="435" font-size="12.3" fill="#000" textLength="26" lengthAdjust="spacingAndGlyphs">16:35</text>
<text x="178.2" y="435" font-size="12.3" fill="#000" textLength="20.2" lengthAdjust="spacingAndGlyphs">29.8</text>
<text x="172" y="451" font-size="12.3" fill="#000" textLength="25" lengthAdjust="spacingAndGlyphs">19.31</text>
<text x="174.1" y="467" font-size="12.3" fill="#000" font-weight="bold" textLength="23.5" lengthAdjust="spacingAndGlyphs">16.0</text>
<text x="212.8" y="403" font-size="12.3" fill="#000" font-weight="bold" textLength="60.3" lengthAdjust="spacingAndGlyphs">Feuchte A.</text>
<text x="307.9" y="403" font-size="12.3" fill="#000" font-weight="bold" textLength="8.2" lengthAdjust="spacingAndGlyphs">%</text>
<text x="219.2" y="419" font-size="12.3" fill="#000" textLength="25.6" lengthAdjust="spacingAndGlyphs">17:20</text>
<text x="304.8" y="419" font-size="12.3" fill="#000" textLength="11.3" lengthAdjust="spacingAndGlyphs">39</text>
<text x="218.8" y="435" font-size="12.3" fill="#000" textLength="26" lengthAdjust="spacingAndGlyphs">09:05</text>
<text x="304.8" y="435" font-size="12.3" fill="#000" textLength="11.3" lengthAdjust="spacingAndGlyphs">75</text>
<text x="304.8" y="451" font-size="12.3" fill="#000" textLength="11.3" lengthAdjust="spacingAndGlyphs">57</text>
<text x="215.5" y="467" font-size="12.3" fill="#000" textLength="44.8" lengthAdjust="spacingAndGlyphs">8.18 g/m³</text>
<text x="303.3" y="467" font-size="12.3" fill="#000" font-weight="bold" textLength="12.8" lengthAdjust="spacingAndGlyphs">60</text>
<text x="330.8" y="403" font-size="12.3" fill="#000" font-weight="bold" textLength="52.7" lengthAdjust="spacingAndGlyphs">Luftdruck</text>
<text x="413.1" y="403" font-size="12.3" fill="#000" font-weight="bold" textLength="21" lengthAdjust="spacingAndGlyphs">hPa</text>
<text x="336.8" y="419" font-size="12.3" fill="#000" textLength="26" lengthAdjust="spacingAndGlyphs">07:05</text>
<text x="402.1" y="419" font-size="12.3" fill="#000" textLength="32" lengthAdjust="spacingAndGlyphs">1029.0</text>
<text x="337.3" y="435" font-size="12.3" fill="#000" textLength="25.5" lengthAdjust="spacingAndGlyphs">12:05</text>
<text x="402.1" y="435" font-size="12.3" fill="#000" textLength="32" lengthAdjust="spacingAndGlyphs">1036.4</text>
<text x="330.8" y="451" font-size="12.3" fill="#000" textLength="50.3" lengthAdjust="spacingAndGlyphs">^3.2hPa/h</text>
<text x="402.1" y="451" font-size="12.3" fill="#000" textLength="32" lengthAdjust="spacingAndGlyphs">1032.6</text>
<text x="330.8" y="467" font-size="12.3" fill="#000" textLength="36.2" lengthAdjust="spacingAndGlyphs">bewölkt</text>
<text x="397.5" y="467" font-size="12.3" fill="#000" font-weight="bold" textLength="36.6" lengthAdjust="spacingAndGlyphs">1030.8</text>
<text x="448.8" y="403" font-size="12.3" fill="#000" font-weight="bold" textLength="28.3" lengthAdjust="spacingAndGlyphs">Wind</text>
<text x="524.3" y="403" font-size="12.3" fill="#000" font-weight="bold" textLength="27.8" lengthAdjust="spacingAndGlyphs">km/h</text>
<text x="449.2" y="419" font-size="12.3" fill="#000" textLength="42.6" lengthAdjust="spacingAndGlyphs">Ø 10 min.</text>
<text x="537.8" y="419" font-size="12.3" fill="#000" textLength="12.6" lengthAdjust="spacingAndGlyphs">0.1</text>
<text x="455.2" y="435" font-size="12.3" fill="#000" textLength="25.6" lengthAdjust="spacingAndGlyphs">12:00</text>
<text x="515.9" y="435" font-size="12.3" fill="#000" textLength="36.2" lengthAdjust="spacingAndGlyphs">NW 3.2</text>
<text x="537.8" y="451" font-size="12.3" fill="#000" textLength="14.3" lengthAdjust="spacingAndGlyphs">0.8</text>
<text x="455.2" y="467" font-size="12.3" fill="#000" textLength="51.2" lengthAdjust="spacingAndGlyphs">0 Bft S-SW</text>
<text x="535.7" y="467" font-size="12.3" fill="#000" font-weight="bold" textLength="16.4" lengthAdjust="spacingAndGlyphs">0.0</text>
<text x="566.8" y="403" font-size="12.3" fill="#000" font-weight="bold" textLength="56.3" lengthAdjust="spacingAndGlyphs">Windböen</text>
<text x="642.3" y="403" font-size="12.3" fill="#000" font-weight="bold" textLength="27.8" lengthAdjust="spacingAndGlyphs">km/h</text>
<text x="567.2" y="419" font-size="12.3" fill="#000" textLength="42.6" lengthAdjust="spacingAndGlyphs">Ø 10 min.</text>
<text x="655.8" y="419" font-size="12.3" fill="#000" textLength="14.3" lengthAdjust="spacingAndGlyphs">0.0</text>
<text x="573.2" y="435" font-size="12.3" fill="#000" textLength="25.6" lengthAdjust="spacingAndGlyphs">16:55</text>
<text x="614.0" y="435" font-size="12.3" fill="#000" textLength="56.1" lengthAdjust="spacingAndGlyphs">W-NW 12.4</text>
<text x="657.3" y="451" font-size="12.3" fill="#000" textLength="12.8" lengthAdjust="spacingAndGlyphs">1.4</text>
<text x="573.2" y="467" font-size="12.3" fill="#000" textLength="51.2" lengthAdjust="spacingAndGlyphs">0 Bft S-SW</text>
<text x="653.7" y="467" font-size="12.3" fill="#000" font-weight="bold" textLength="16.4" lengthAdjust="spacingAndGlyphs">0.0</text>
<text x="684.8" y="403" font-size="12.3" fill="#000" font-weight="bold" textLength="36.2" lengthAdjust="spacingAndGlyphs">Regen</text>
<text x="767.1" y="403" font-size="12.3" fill="#000" font-weight="bold" textLength="21" lengthAdjust="spacingAndGlyphs">l/m²</text>
<text x="690.8" y="435" font-size="12.3" fill="#000" textLength="26" lengthAdjust="spacingAndGlyphs">00:00</text>
<text x="773.8" y="435" font-size="12.3" fill="#000" textLength="14.3" lengthAdjust="spacingAndGlyphs">0.0</text>
<text x="684.8" y="451" font-size="12.3" fill="#000" textLength="37.5" lengthAdjust="spacingAndGlyphs">Gesamt:</text>
<text x="773.8" y="451" font-size="12.3" fill="#000" textLength="14.3" lengthAdjust="spacingAndGlyphs">0.0</text>
<text x="688.1" y="467" font-size="12.3" fill="#000" textLength="34.2" lengthAdjust="spacingAndGlyphs">0.0 l/m²</text>
<text x="771.7" y="467" font-size="12.3" fill="#000" font-weight="bold" textLength="16.4" lengthAdjust="spacingAndGlyphs">0.0</text>
</svg>
</body></html>
